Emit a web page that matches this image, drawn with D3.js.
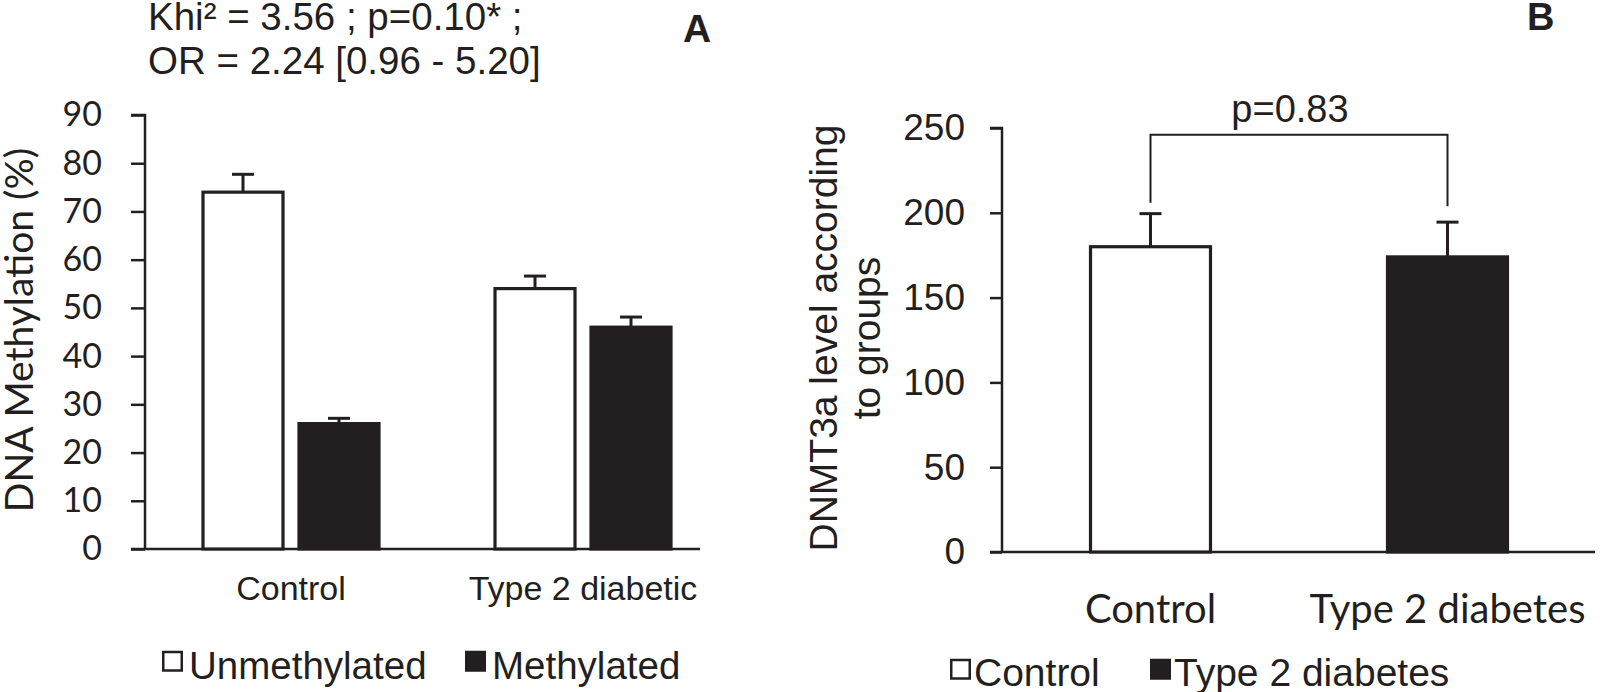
<!DOCTYPE html>
<html>
<head>
<meta charset="utf-8">
<script src="https://cdn.jsdelivr.net/npm/d3@7"></script>
<style>
  html, body { margin: 0; padding: 0; background: #fff; }
  svg { display: block; }
</style>
</head>
<body>
<svg id="chart" width="1600" height="692"></svg>
<script>
// ---------- Data ----------
// Panel A
const catsA = ["Control", "Type 2 diabetic"];
const seriesA = ["Unmethylated", "Methylated"];
const unmethylated = [74, 54];
const unmethylatedErr = [3.7, 2.6];
const methylated = [26, 46];
const methylatedErr = [1.1, 2.1];
const ticksA = [0, 10, 20, 30, 40, 50, 60, 70, 80, 90];
const statsLinesA = ["Khi\u00B2 = 3.56 ; p=0.10* ;", "OR = 2.24 [0.96 - 5.20]"];

// Panel B
const catsB = ["Control", "Type 2 diabetes"];
const dnmt3a = [180, 174];
const dnmt3aErr = [19.5, 20.5];
const ticksB = [0, 50, 100, 150, 200, 250];
const pValueB = "p=0.83";

// ---------- Drawing ----------
const ink = "#231f20";
const svg = d3.select("#chart");

/* ===== Panel A ===== */
const A = { left: 145, right: 729, top: 115, bottom: 549 };
const yA = d3.scaleLinear().domain([0, 90]).range([A.bottom, A.top]);
const x0A = d3.scaleBand().domain(catsA).range([A.left, A.right]);
const x1A = d3.scaleBand().domain(seriesA).range([58, 234]).paddingInner(0.1667);

const gA = svg.append("g");

// y axis
const yAxisA = d3.axisLeft(yA).tickValues(ticksA).tickSize(14).tickPadding(29).tickFormat(d3.format("d"));
const yaA = gA.append("g").attr("transform", `translate(${A.left},0)`).call(yAxisA);
yaA.select(".domain").attr("stroke", ink).attr("stroke-width", 2.5).attr("d", `M-14,${yA(90)}H0V${yA(0)}`);
yaA.selectAll(".tick line").attr("stroke", ink).attr("stroke-width", 2.5);
yaA.selectAll(".tick text").attr("fill", ink).attr("font-family", "Lato, sans-serif").attr("font-size", 34);

// x axis baseline
gA.append("line").attr("x1", A.left - 14).attr("x2", 700).attr("y1", yA(0)).attr("y2", yA(0))
  .attr("stroke", ink).attr("stroke-width", 2.5);

// bars
const rowsA = [];
catsA.forEach((c, i) => {
  rowsA.push({ cat: c, s: seriesA[0], v: unmethylated[i], e: unmethylatedErr[i] });
  rowsA.push({ cat: c, s: seriesA[1], v: methylated[i], e: methylatedErr[i] });
});
const fillA = d3.scaleOrdinal().domain(seriesA).range(["#ffffff", ink]);

const capA = 22;
rowsA.forEach(r => {
  const cx = x0A(r.cat) + x1A(r.s) + x1A.bandwidth() / 2;
  gA.append("line").attr("x1", cx).attr("x2", cx).attr("y1", yA(r.v)).attr("y2", yA(r.v + r.e))
    .attr("stroke", ink).attr("stroke-width", 3);
  gA.append("line").attr("x1", cx - capA / 2).attr("x2", cx + capA / 2).attr("y1", yA(r.v + r.e)).attr("y2", yA(r.v + r.e))
    .attr("stroke", ink).attr("stroke-width", 3);
});
gA.selectAll("rect.barA").data(rowsA).join("rect")
  .attr("class", "barA")
  .attr("x", d => x0A(d.cat) + x1A(d.s))
  .attr("width", x1A.bandwidth())
  .attr("y", d => yA(d.v))
  .attr("height", d => yA(0) - yA(d.v))
  .attr("fill", d => fillA(d.s))
  .attr("stroke", ink)
  .attr("stroke-width", 3.2);

// category labels
gA.selectAll("text.catA").data(catsA).join("text")
  .attr("class", "catA")
  .attr("x", d => x0A(d) + x0A.bandwidth() / 2)
  .attr("y", 600)
  .attr("text-anchor", "middle")
  .attr("font-family", "Liberation Sans, Arial, sans-serif")
  .attr("font-size", 34)
  .attr("fill", ink)
  .text(d => d);

// y title
gA.append("text")
  .attr("transform", `translate(33,${(A.top + A.bottom) / 2 - 2}) rotate(-90)`)
  .attr("text-anchor", "middle")
  .attr("font-family", "Lato, sans-serif")
  .attr("font-size", 39)
  .attr("fill", ink)
  .text("DNA Methylation (%)");

// stats header
gA.selectAll("text.stat").data(statsLinesA).join("text")
  .attr("class", "stat")
  .attr("x", 148)
  .attr("y", (d, i) => 30 + i * 44)
  .attr("font-family", "Liberation Sans, Arial, sans-serif")
  .attr("font-size", 38.5)
  .attr("fill", ink)
  .text(d => d);

// panel letter
gA.append("text").attr("x", 683).attr("y", 42)
  .attr("font-family", "Liberation Sans, Arial, sans-serif").attr("font-weight", "bold")
  .attr("font-size", 39).attr("fill", ink).text("A");

// legend A
const legA = gA.append("g");
const legAPos = [162, 465];
seriesA.forEach((s, i) => {
  legA.append("rect").attr("x", legAPos[i] + 1.25).attr("y", 652).attr("width", 18.5).attr("height", 18.5)
    .attr("fill", fillA(s)).attr("stroke", ink).attr("stroke-width", 2.5);
  legA.append("text").attr("x", legAPos[i] + 27).attr("y", 679)
    .attr("font-family", "Liberation Sans, Arial, sans-serif").attr("font-size", 38.5).attr("fill", ink).text(s);
});

/* ===== Panel B ===== */
const B = { left: 1002, right: 1596, top: 128, bottom: 552 };
const yB = d3.scaleLinear().domain([0, 250]).range([B.bottom, B.top]);
const xB = d3.scaleBand().domain(catsB).range([B.left, B.right]).paddingInner(0.596).paddingOuter(0.298);
const fillB = d3.scaleOrdinal().domain(catsB).range(["#ffffff", ink]);

const gB = svg.append("g");
const yAxisB = d3.axisLeft(yB).tickValues(ticksB).tickSize(12).tickPadding(25);
const yaB = gB.append("g").attr("transform", `translate(${B.left},0)`).call(yAxisB);
yaB.select(".domain").attr("stroke", ink).attr("stroke-width", 2.5).attr("d", `M-12,${yB(250)}H0V${yB(0)}`);
yaB.selectAll(".tick line").attr("stroke", ink).attr("stroke-width", 2.5);
yaB.selectAll(".tick text").attr("fill", ink).attr("font-family", "Liberation Sans, Arial, sans-serif").attr("font-size", 37);

gB.append("line").attr("x1", B.left - 12).attr("x2", 1595).attr("y1", yB(0)).attr("y2", yB(0))
  .attr("stroke", ink).attr("stroke-width", 2.5);

const rowsB = catsB.map((c, i) => ({ cat: c, v: dnmt3a[i], e: dnmt3aErr[i] }));
const capB = 22;
rowsB.forEach(r => {
  const cx = xB(r.cat) + xB.bandwidth() / 2;
  gB.append("line").attr("x1", cx).attr("x2", cx).attr("y1", yB(r.v)).attr("y2", yB(r.v + r.e))
    .attr("stroke", ink).attr("stroke-width", 3);
  gB.append("line").attr("x1", cx - capB / 2).attr("x2", cx + capB / 2).attr("y1", yB(r.v + r.e)).attr("y2", yB(r.v + r.e))
    .attr("stroke", ink).attr("stroke-width", 3);
});
gB.selectAll("rect.barB").data(rowsB).join("rect")
  .attr("class", "barB")
  .attr("x", d => xB(d.cat))
  .attr("width", xB.bandwidth())
  .attr("y", d => yB(d.v))
  .attr("height", d => yB(0) - yB(d.v))
  .attr("fill", d => fillB(d.cat))
  .attr("stroke", ink)
  .attr("stroke-width", 3.2);

// significance bracket
const bx1 = xB(catsB[0]) + xB.bandwidth() / 2;
const bx2 = xB(catsB[1]) + xB.bandwidth() / 2;
const bTop = yB(246);
gB.append("path")
  .attr("d", `M${bx1},${yB(dnmt3a[0] + dnmt3aErr[0]) - 11}V${bTop}H${bx2}V${yB(dnmt3a[1] + dnmt3aErr[1]) - 16}`)
  .attr("fill", "none").attr("stroke", ink).attr("stroke-width", 2);
gB.append("text").attr("x", (bx1 + bx2) / 2 - 9).attr("y", 122)
  .attr("text-anchor", "middle")
  .attr("font-family", "Liberation Sans, Arial, sans-serif").attr("font-size", 38).attr("fill", ink)
  .text(pValueB);

// category labels
gB.selectAll("text.catB").data(catsB).join("text")
  .attr("class", "catB")
  .attr("x", d => xB(d) + xB.bandwidth() / 2)
  .attr("y", 623)
  .attr("text-anchor", "middle")
  .attr("font-family", "Lato, sans-serif")
  .attr("font-size", 40)
  .attr("fill", ink)
  .text(d => d);

// y title (two lines)
const yTitleB = ["DNMT3a level according", "to groups"];
gB.selectAll("text.ytB").data(yTitleB).join("text")
  .attr("class", "ytB")
  .attr("transform", (d, i) => `translate(${837 + i * 43},338) rotate(-90)`)
  .attr("text-anchor", "middle")
  .attr("font-family", "Liberation Sans, Arial, sans-serif")
  .attr("font-size", 39)
  .attr("fill", ink)
  .text(d => d);

// panel letter
gB.append("text").attr("x", 1527).attr("y", 30)
  .attr("font-family", "Liberation Sans, Arial, sans-serif").attr("font-weight", "bold")
  .attr("font-size", 38).attr("fill", ink).text("B");

// legend B
const legBPos = [950, 1150];
catsB.forEach((c, i) => {
  gB.append("rect").attr("x", legBPos[i] + 1.25).attr("y", 660).attr("width", 18.5).attr("height", 18.5)
    .attr("fill", fillB(c)).attr("stroke", ink).attr("stroke-width", 2.5);
  gB.append("text").attr("x", legBPos[i] + 24).attr("y", 686)
    .attr("font-family", "Liberation Sans, Arial, sans-serif").attr("font-size", 39).attr("fill", ink).text(c);
});
</script>
</body>
</html>
